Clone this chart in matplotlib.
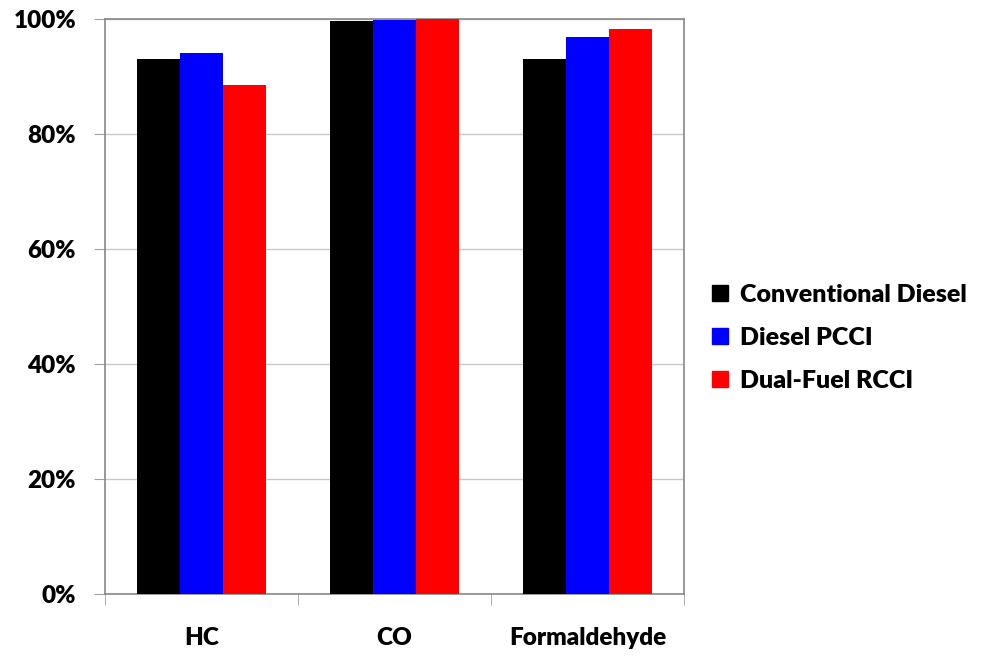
import numpy as np
import matplotlib
matplotlib.use('Agg')
import matplotlib.pyplot as plt
from matplotlib.patches import Patch

categories = ['HC', 'CO', 'Formaldehyde']
series = ['Conventional Diesel', 'Diesel PCCI', 'Dual-Fuel RCCI']
conventional = [93.0, 99.7, 93.1]
pcci = [94.1, 99.9, 96.9]
rcci = [88.5, 100.0, 98.2]
colors = ['#000000', '#0000ff', '#ff0000']
yticks = [0, 20, 40, 60, 80, 100]

plt.rcParams['font.family'] = ['Lato', 'DejaVu Sans']

fig = plt.figure(figsize=(9.84, 6.56), dpi=100)
ax = fig.add_axes([0.107, 0.0945, 0.588, 0.8765])

x = np.arange(len(categories))
w = 0.223
for i, vals in enumerate([conventional, pcci, rcci]):
    ax.bar(x + (i - 1) * w, vals, width=w, color=colors[i], zorder=3)

ax.set_xlim(-0.5, 2.5)
ax.set_ylim(0, 100)
ax.set_yticks(yticks)
ax.set_yticklabels(['{}%'.format(t) for t in yticks], fontsize=17.5, fontweight='heavy')
ax.set_xticks(x)
ax.set_xticklabels(categories, fontsize=17.5, fontweight='heavy')
ax.tick_params(axis='x', length=0, pad=24)
ax.set_xticks([-0.5, 0.5, 1.5, 2.5], minor=True)
ax.tick_params(axis='x', which='minor', length=8, color='#a0a0a0', direction='out')
ax.tick_params(axis='y', length=8, color='#a0a0a0', pad=13)

ax.grid(axis='y', color='#c8c8c8', lw=1, zorder=0)
for s in ax.spines.values():
    s.set_color('#888888')
    s.set_linewidth(1.2)

handles = [Patch(color=c) for c in colors]
fig.legend(handles, series, loc='center left', bbox_to_anchor=(0.7236, 0.485),
           frameon=False, prop={'weight': 'heavy', 'size': 18},
           handlelength=0.65, handleheight=0.6, handletextpad=0.45,
           labelspacing=0.85, borderpad=0, borderaxespad=0)

fig.savefig('out.png', dpi=100)
